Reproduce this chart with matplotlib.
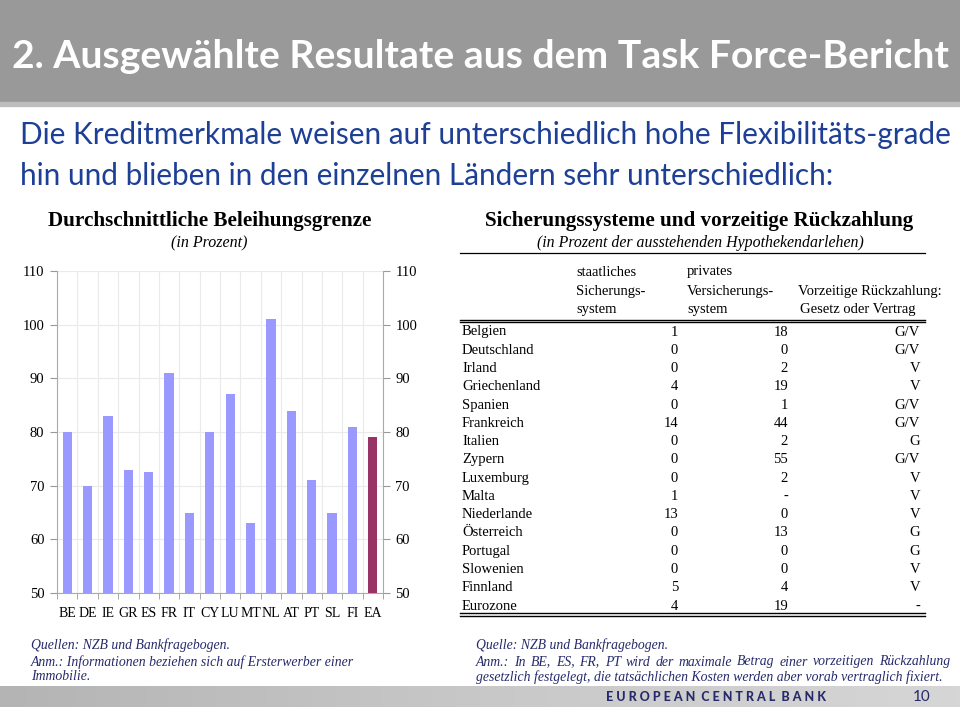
import matplotlib
matplotlib.use("Agg")
import matplotlib.pyplot as plt
from matplotlib.patches import Rectangle
import numpy as np

W, H = 960, 713

countries = ["BE", "DE", "IE", "GR", "ES", "FR", "IT", "CY", "LU", "MT",
             "NL", "AT", "PT", "SL", "FI", "EA"]
ltv = [80, 70, 83, 73, 72.5, 91, 65, 80, 87, 63, 101, 84, 71, 65, 81, 79]

table_rows = ["Belgien", "Deutschland", "Irland", "Griechenland", "Spanien",
              "Frankreich", "Italien", "Zypern", "Luxemburg", "Malta",
              "Niederlande", "Österreich", "Portugal", "Slowenien", "Finnland",
              "Eurozone"]
state_scheme = ["1", "0", "0", "4", "0", "14", "0", "0", "0", "1", "13", "0",
                "0", "0", "5", "4"]
private_scheme = ["18", "0", "2", "19", "1", "44", "2", "55", "2", "-", "0",
                  "13", "0", "0", "4", "19"]
prepayment = ["G/V", "G/V", "V", "V", "G/V", "G/V", "G", "G/V", "V", "V", "V",
              "G", "G", "V", "V", "-"]

SERIF = "Liberation Serif"
SANS = "Lato"
BLUE = "#1d3f95"
NAVY = "#262a6a"

fig = plt.figure(figsize=(W / 100, H / 100), dpi=100)


def fx(x):
    return x / W


def fy(y):
    return 1 - y / H


def txt(x, y, s, **kw):
    kw.setdefault("va", "center")
    return fig.text(fx(x), fy(y), s, **kw)


def justified(x0, x1, y, s, **kw):
    words = s.split(" ")
    r = fig.canvas.get_renderer()
    kw = dict(kw)
    kw["va"] = "baseline"
    arts = [txt(x0, y, w, **kw) for w in words]
    widths = [a.get_window_extent(r).width for a in arts]
    gap = (x1 - x0 - sum(widths)) / (len(words) - 1)
    xx = x0
    for a, w in zip(arts, widths):
        a.set_x(fx(xx))
        xx += w + gap


# title bar
fig.patches.append(Rectangle((0, fy(104)), 1, 1 - fy(104), transform=fig.transFigure,
                             color="#999999", zorder=0))
fig.patches.append(Rectangle((0, fy(106)), 1, fy(102) - fy(106), transform=fig.transFigure,
                             color="#bdbdbd", zorder=0))
txt(12, 56, "2. Ausgewählte Resultate aus dem Task Force-Bericht", color="white",
    fontsize=28.2, fontweight="bold", family=SANS, ha="left")

txt(20, 135, "Die Kreditmerkmale weisen auf unterschiedlich hohe Flexibilitäts-grade",
    color=BLUE, fontsize=21.4, family=SANS, ha="left")
txt(20, 176, "hin und blieben in den einzelnen Ländern sehr unterschiedlich:",
    color=BLUE, fontsize=21.4, family=SANS, ha="left")

# section headings
txt(210, 221, "Durchschnittliche Beleihungsgrenze", fontsize=15.2, fontweight="bold",
    family=SERIF, ha="center", color="black")
txt(209, 243, "(in Prozent)", fontsize=11.5, style="italic", family=SERIF, ha="center")
txt(699, 221, "Sicherungssysteme und vorzeitige Rückzahlung", fontsize=15.2,
    fontweight="bold", family=SERIF, ha="center")
txt(700, 243, "(in Prozent der ausstehenden Hypothekendarlehen)", fontsize=11.4,
    style="italic", family=SERIF, ha="center")

# bar chart
ax = fig.add_axes([fx(57), fy(593), fx(383) - fx(57), fy(271) - fy(593)])
x = np.arange(len(countries))
colors = ["#9999ff"] * (len(countries) - 1) + ["#993366"]
ax.bar(x, ltv, width=0.45, color=colors, zorder=3)
ax.set_ylim(50, 110)
ax.set_xlim(-0.5, len(countries) - 0.5)
ax.set_yticks(np.arange(50, 111, 10))
ax.set_xticks(x)
ax.set_xticklabels(countries)
ax.set_xticks(np.arange(-0.5, len(countries), 1), minor=True)
ax.tick_params(axis="x", which="major", length=0, pad=10, labelsize=10)
ax.tick_params(axis="x", which="minor", length=4, direction="out", color="#999999")
ax.tick_params(axis="y", which="major", length=5, direction="out", color="#999999",
               left=True, right=True, labelleft=True, labelright=True, labelsize=10.5,
               pad=4)
for lab in ax.get_xticklabels() + ax.get_yticklabels():
    lab.set_family(SERIF)
ax.grid(axis="y", color="#eaeaea", lw=0.8, zorder=0)
ax.grid(axis="x", which="minor", color="#eaeaea", lw=0.8, zorder=0)
ax.spines["top"].set_visible(False)
for s in ["left", "right", "bottom"]:
    ax.spines[s].set_color("#aaaaaa")
    ax.spines[s].set_linewidth(0.8)
ax.set_facecolor("white")

# table
fig.lines.append(plt.Line2D([fx(460), fx(925)], [fy(253), fy(253)],
                            transform=fig.transFigure, color="black", lw=0.9))
hdr_kw = dict(fontsize=10.5, family=SERIF, ha="left")
txt(576, 272, "staatliches", **hdr_kw)
txt(576, 291, "Sicherungs-", **hdr_kw)
txt(576, 310, "system", **hdr_kw)
txt(687, 272, "privates", **hdr_kw)
txt(687, 291, "Versicherungs-", **hdr_kw)
txt(687, 310, "system", **hdr_kw)
txt(798, 291, "Vorzeitige Rückzahlung:", **hdr_kw)
txt(800, 310, "Gesetz oder Vertrag", **hdr_kw)
for yy in (320, 322.5, 613, 615.5):
    fig.lines.append(plt.Line2D([fx(460), fx(925)], [fy(yy), fy(yy)],
                                transform=fig.transFigure, color="black", lw=1.0))
row0, dy = 332, 18.27
for i, name in enumerate(table_rows):
    yy = row0 + i * dy
    txt(462, yy, name, fontsize=10.5, family=SERIF, ha="left")
    txt(678, yy, state_scheme[i], fontsize=10.5, family=SERIF, ha="right")
    txt(788, yy, private_scheme[i], fontsize=10.5, family=SERIF, ha="right")
    txt(920, yy, prepayment[i], fontsize=10.5, family=SERIF, ha="right")

# footnotes
fn = dict(fontsize=9.9, family=SERIF, style="italic", color=NAVY, ha="left")
txt(31, 645, "Quellen: NZB und Bankfragebogen.", **fn)
txt(31, 662, "Anm.: Informationen beziehen sich auf Ersterwerber einer", **fn)
txt(31, 677, "Immobilie.", **fn)
txt(476, 645, "Quelle: NZB und Bankfragebogen.", **fn)
justified(476, 950, 665.5,
          "Anm.: In BE, ES, FR, PT wird der maximale Betrag einer vorzeitigen Rückzahlung", **fn)
txt(476, 677, "gesetzlich festgelegt, die tatsächlichen Kosten werden aber vorab vertraglich fixiert.", **fn)

# footer bar with gradient
grad = np.linspace(0, 1, 256).reshape(1, -1)
fax = fig.add_axes([0, fy(707), 1, fy(686) - fy(707)])
fax.imshow(grad, aspect="auto", cmap=matplotlib.colors.LinearSegmentedColormap.from_list(
    "g", ["#b4b4b4", "#c8c8c8", "#d6d6d6"]), extent=[0, 1, 0, 1])
fax.axis("off")
txt(716, 697, "E U R O P E A N  C E N T R A L  B A N K",
    fontsize=9, fontweight="black", family=SANS, color=NAVY, ha="center")
txt(922, 697, "10", fontsize=11, family=SANS, color=NAVY, ha="center")

fig.savefig("out.png", dpi=100)
